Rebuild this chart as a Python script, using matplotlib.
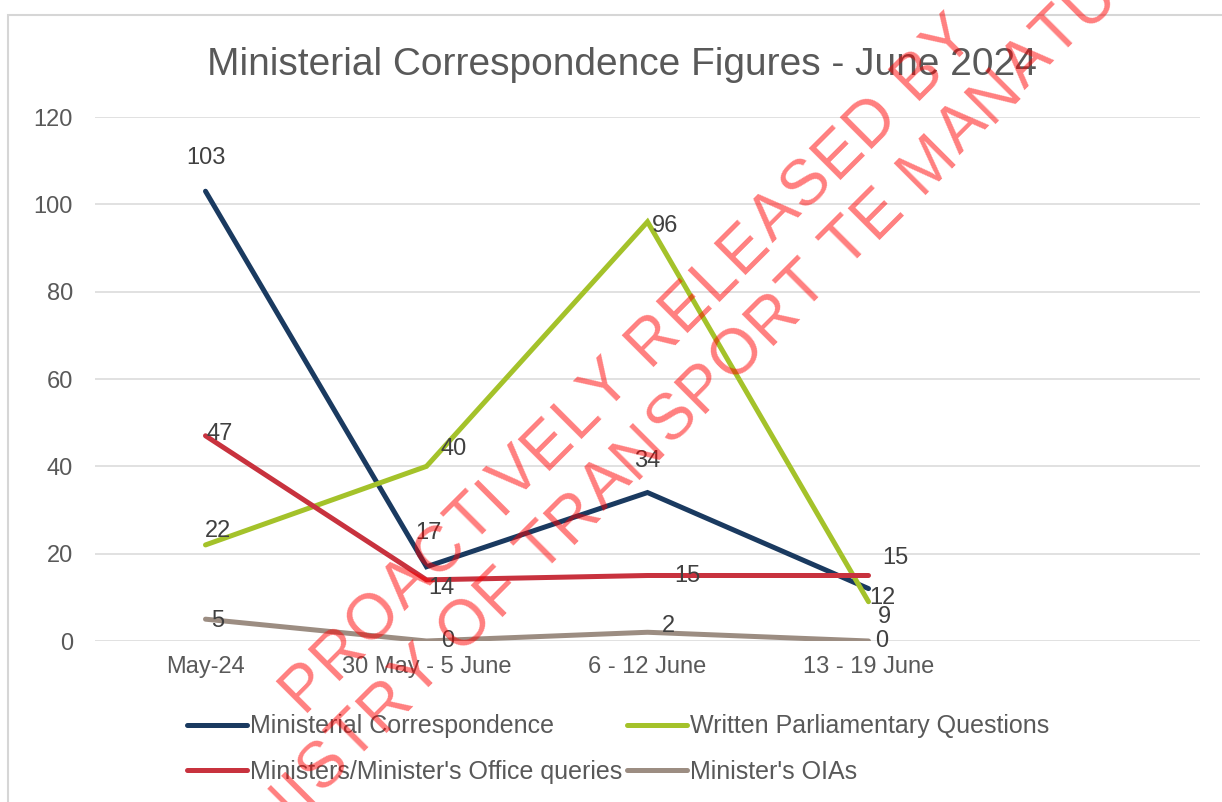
import numpy as np
import matplotlib
matplotlib.use("Agg")
import matplotlib.pyplot as plt
from matplotlib import font_manager
from matplotlib.ft2font import FT2Font
from matplotlib.patches import Rectangle
from matplotlib.transforms import IdentityTransform

plt.rcParams['font.family'] = ['Liberation Sans', 'DejaVu Sans']

# data
weeks = ["May-24", "30 May - 5 June", "6 - 12 June", "13 - 19 June"]
corr = [103, 17, 34, 12]
wpq = [22, 40, 96, 9]
office = [47, 14, 15, 15]
oias = [5, 0, 2, 0]

names = ["Ministerial Correspondence", "Written Parliamentary Questions",
         "Ministers/Minister's Office queries", "Minister's OIAs"]
colours = ["#1A3A60", "#A4C22A", "#C8323E", "#9C8D82"]

# label offsets in pixels from each point (dx, dy), Excel moved them around
offs = [
    [(0, 33), (2, 34), (0, 32), (14, -9)],
    [(13, 14), (27, 17), (18, -4), (16, -15)],
    [(14, 2), (15, -8), (40, 0), (27, 17)],
    [(12, -2), (21, 0), (21, 6), (13, 0)],
]

W, H = 1222, 802
fig = plt.figure(figsize=(W / 100, H / 100), dpi=100)
ax = fig.add_axes([95 / W, 1 - 641 / H, 1105 / W, 524 / H])

x = np.arange(len(weeks))
lines = []
for vals, name, col, off in zip([corr, wpq, office, oias], names, colours, offs):
    ln, = ax.plot(x, vals, color=col, lw=3.6, label=name, solid_capstyle='round',
                  solid_joinstyle='miter')
    lines.append(ln)
    for xi, v, (dx, dy) in zip(x, vals, off):
        ax.annotate(str(v), (xi, v), xytext=(dx, dy), textcoords='offset pixels',
                    ha='center', va='center', fontsize=17, color='#404040')

ax.set_xlim(-0.5, 4.5)
ax.set_ylim(0, 120)
ax.set_yticks(range(0, 121, 20))
ax.set_xticks(x)
ax.set_xticklabels(weeks)
ax.tick_params(length=0, labelsize=17, labelcolor='#595959')
ax.tick_params(axis='y', pad=16)
ax.tick_params(axis='x', pad=11)
ax.grid(axis='y', color='#D9D9D9', lw=1.1)
ax.set_axisbelow(True)
for s in ax.spines.values():
    s.set_visible(False)

fig.text(0.509, 1 - 75 / H, "Ministerial Correspondence Figures - June 2024",
         ha='center', va='baseline', fontsize=28, color='#595959')

# legend fills by column, so reorder to get Excel's row order
order = [0, 2, 1, 3]
fig.legend([lines[i] for i in order], [names[i] for i in order],
           loc='center', bbox_to_anchor=(0.506, 1 - 749 / H), ncol=2,
           frameon=False, fontsize=18, labelcolor='#595959', handlelength=2.4,
           handletextpad=0.12, columnspacing=0.2, labelspacing=0.85, borderpad=0)

fig.patches.append(Rectangle((8 / W, -0.1), 2, 1 - 15 / H + 0.1, transform=fig.transFigure,
                             fill=False, edgecolor='#D6D6D6', lw=1.5))

# watermark, drawn letter by letter to get the wide tracking
wm_lines = ["PROACTIVELY RELEASED BY", "MINISTRY OF TRANSPORT TE MANATŪ WAKA"]
wm_starts = [(303, H - 713), (220, H - 895)]
wm_size = 46
track = 2
ft = FT2Font(font_manager.findfont(font_manager.FontProperties(family='Liberation Sans')))
ft.set_size(wm_size, 72)
ang = np.deg2rad(45)
for line, (sx, sy) in zip(wm_lines, wm_starts):
    pos = 0.0
    for ch in line:
        px = sx + pos * np.cos(ang)
        py = sy + pos * np.sin(ang)
        fig.text(px, py, ch, transform=IdentityTransform(), rotation=45,
                 rotation_mode='anchor', ha='left', va='baseline',
                 fontsize=wm_size, color='red', alpha=0.5, zorder=10)
        g = ft.load_char(ord(ch))
        pos += g.linearHoriAdvance / 65536 * 100 / 72 + track

fig.savefig("out.png", dpi=100)
